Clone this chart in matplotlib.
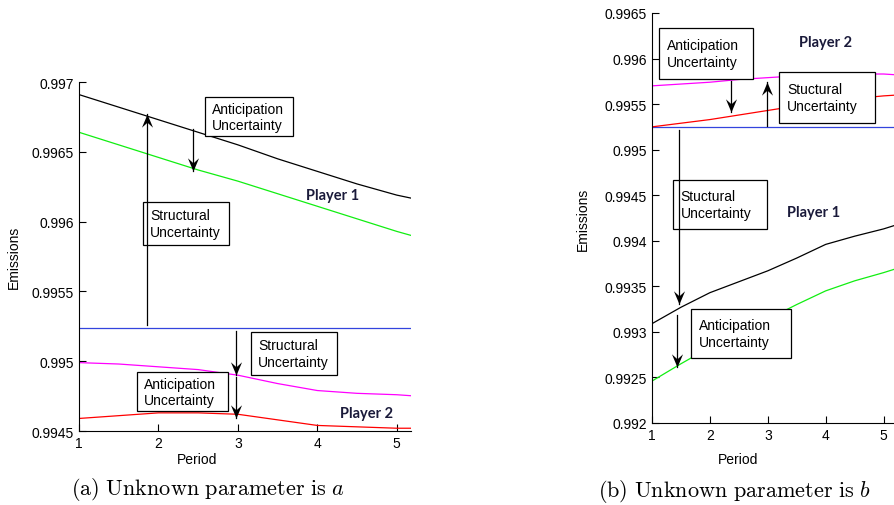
import numpy as np
import matplotlib
matplotlib.use("Agg")
import matplotlib.pyplot as plt
from matplotlib.patches import Rectangle
from matplotlib.path import Path

plt.rcParams['font.family'] = ['Liberation Sans', 'DejaVu Sans']
plt.rcParams['mathtext.fontset'] = 'cm'

# periods (curves run past the visible window, which is cut at ~5.18)
periods = [1, 1.5, 2, 2.5, 3, 3.5, 4, 4.5, 5, 5.25]

# (a) unknown parameter a
a_black = [0.99691, 0.99682, 0.99673, 0.99664, 0.99655, 0.99645, 0.99636, 0.99627, 0.99619, 0.99616]
a_green = [0.99664, 0.99655, 0.99646, 0.99637, 0.99629, 0.99620, 0.99611, 0.99602, 0.99593, 0.99589]
a_blue = [0.99524] * len(periods)
a_magenta = [0.99499, 0.99498, 0.99496, 0.99494, 0.99490, 0.99484, 0.99479, 0.99477, 0.99476, 0.99475]
a_red = [0.99459, 0.99461, 0.99463, 0.99463, 0.99462, 0.99458, 0.99454, 0.99453, 0.99452, 0.99452]

# (b) unknown parameter b
b_black = [0.99309, 0.99327, 0.99343, 0.99355, 0.99367, 0.99381, 0.99396, 0.99405, 0.99413, 0.99418]
b_green = [0.99246, 0.99265, 0.99283, 0.99299, 0.99314, 0.99330, 0.99345, 0.99356, 0.99365, 0.99370]
b_blue = [0.99525] * len(periods)
b_magenta = [0.99570, 0.99572, 0.99574, 0.99577, 0.99579, 0.99581, 0.99583, 0.99583, 0.99583, 0.99582]
b_red = [0.99525, 0.99529, 0.99533, 0.99538, 0.99543, 0.99548, 0.99553, 0.99556, 0.99559, 0.99560]

xticks = [1, 2, 3, 4, 5]
a_yticks = [0.9945, 0.995, 0.9955, 0.996, 0.9965, 0.997]
b_yticks = [0.992, 0.9925, 0.993, 0.9935, 0.994, 0.9945, 0.995, 0.9955, 0.996, 0.9965]

GREEN = '#11ee11'
BLUE = '#3344dd'
MAGENTA = '#ff00ff'
RED = '#ff0000'
LABEL_COL = '#1a1a3a'

# notched arrow head, tip at the origin (pointing down / up)
HEAD_DOWN = Path([(0, 0), (-0.42, 1), (0, 0.62), (0.42, 1), (0, 0)],
                 [Path.MOVETO, Path.LINETO, Path.LINETO, Path.LINETO, Path.CLOSEPOLY])
HEAD_UP = Path([(0, 0), (-0.42, -1), (0, -0.62), (0.42, -1), (0, 0)],
               [Path.MOVETO, Path.LINETO, Path.LINETO, Path.LINETO, Path.CLOSEPOLY])


def setup(ax, yticks):
    ax.set_xlim(1, 5.18)
    ax.set_ylim(yticks[0], yticks[-1])
    ax.set_xticks(xticks)
    ax.set_yticks(yticks)
    ax.set_yticklabels(['%g' % v for v in yticks])
    ax.tick_params(direction='in', length=5, width=0.8, labelsize=10)
    ax.spines['top'].set_visible(False)
    ax.spines['right'].set_visible(False)
    for s in ('left', 'bottom'):
        ax.spines[s].set_linewidth(0.8)
    ax.set_xlabel('Period', fontsize=10)
    ax.set_ylabel('Emissions', fontsize=10)


def box(ax, x0, x1, y0, y1, text):
    ax.add_patch(Rectangle((x0, y0), x1 - x0, y1 - y0, fill=True, fc='white',
                           ec='black', lw=0.9, zorder=4))
    ax.text(x0 + 0.08 * (x1 - x0), (y0 + y1) / 2, text, ha='left', va='center',
            fontsize=10, linespacing=1.25, zorder=5)


def arrow(ax, x, y0, y1):
    ax.plot([x, x], [y0, y1], color='black', lw=0.9, zorder=6, clip_on=False)
    head = HEAD_DOWN if y1 < y0 else HEAD_UP
    ax.plot([x], [y1], marker=head, markersize=19, color='black', mew=0,
            zorder=6, clip_on=False)


fig = plt.figure(figsize=(8.94, 5.06), dpi=100)

# ---------- panel (a) ----------
ax1 = fig.add_axes([0.0884, 0.1462, 0.3714, 0.6897])
ax1.plot(periods, a_black, color='black', lw=0.9)
ax1.plot(periods, a_green, color=GREEN, lw=0.9)
ax1.plot(periods, a_blue, color=BLUE, lw=0.9)
ax1.plot(periods, a_magenta, color=MAGENTA, lw=0.9)
ax1.plot(periods, a_red, color=RED, lw=0.9)
setup(ax1, a_yticks)
ax1.yaxis.set_label_coords(-0.175, 0.5)
ax1.xaxis.set_label_coords(0.355, -0.06)

box(ax1, 2.58, 3.70, 0.99661, 0.99689, 'Anticipation\nUncertainty')
arrow(ax1, 2.43, 0.99666, 0.99636)
box(ax1, 1.81, 2.89, 0.99583, 0.99614, 'Structural\nUncertainty')
arrow(ax1, 1.86, 0.99526, 0.99677)
ax1.text(3.86, 0.99619, 'Player 1', family='Lato', weight='bold', fontsize=10.5,
         color=LABEL_COL, va='center')

box(ax1, 3.17, 4.25, 0.99490, 0.99521, 'Structural\nUncertainty')
arrow(ax1, 2.97, 0.99522, 0.99490)
arrow(ax1, 2.97, 0.99489, 0.99459)
box(ax1, 1.73, 2.87, 0.99464, 0.99492, 'Anticipation\nUncertainty')
ax1.text(4.28, 0.99463, 'Player 2', family='Lato', weight='bold', fontsize=10.5,
         color=LABEL_COL, va='center')

fig.text(0.233, 0.032, r'$\mathrm{(a)\ Unknown\ parameter\ is\ }a$',
         ha='center', va='center', fontsize=16)

# ---------- panel (b) ----------
ax2 = fig.add_axes([0.7293, 0.1621, 0.2707, 0.8103])
ax2.plot(periods, b_black, color='black', lw=0.9)
ax2.plot(periods, b_green, color=GREEN, lw=0.9)
ax2.plot(periods, b_blue, color=BLUE, lw=0.9)
ax2.plot(periods, b_magenta, color=MAGENTA, lw=0.9)
ax2.plot(periods, b_red, color=RED, lw=0.9)
setup(ax2, b_yticks)
ax2.yaxis.set_label_coords(-0.256, 0.5)
ax2.xaxis.set_label_coords(0.355, -0.071)

box(ax2, 1.126, 2.74, 0.99578, 0.99633, 'Anticipation\nUncertainty')
arrow(ax2, 2.36, 0.99575, 0.99541)
arrow(ax2, 2.98, 0.99526, 0.99574)
ax2.text(3.54, 0.99618, 'Player 2', family='Lato', weight='bold', fontsize=10.5,
         color=LABEL_COL, va='center')
box(ax2, 3.20, 4.86, 0.99529, 0.99585, 'Stuctural\nUncertainty')

box(ax2, 1.36, 2.99, 0.99413, 0.99467, 'Stuctural\nUncertainty')
arrow(ax2, 1.46, 0.99522, 0.99331)
arrow(ax2, 1.44, 0.99319, 0.99261)
ax2.text(3.33, 0.99432, 'Player 1', family='Lato', weight='bold', fontsize=10.5,
         color=LABEL_COL, va='center')
box(ax2, 1.67, 3.40, 0.99271, 0.99325, 'Anticipation\nUncertainty')

fig.text(0.822, 0.028, r'$\mathrm{(b)\ Unknown\ parameter\ is\ }b$',
         ha='center', va='center', fontsize=16)

fig.savefig('out.png', dpi=100)
